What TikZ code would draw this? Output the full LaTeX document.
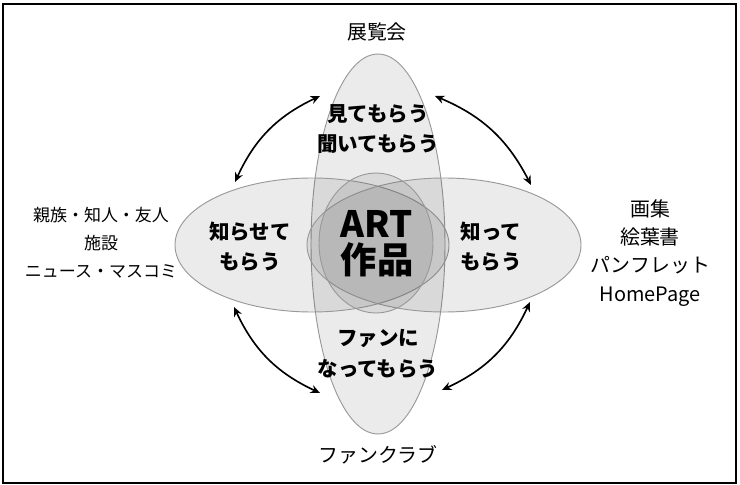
\documentclass[tikz,border=0pt]{standalone}
\usepackage{fontspec}
\setmainfont{Noto Sans CJK JP}
\usepackage{tikz}
\usetikzlibrary{arrows.meta}

\begin{document}
\begin{tikzpicture}[x=0.03cm, y=-0.03cm,
	petal/.style={draw=gray!80, line width=0.8pt, fill=black, fill opacity=0.08, draw opacity=1},
	label/.style={align=center, font=\fontsize{17}{24}\selectfont, inner sep=0pt},
	inner/.style={align=center, font=\bfseries\fontsize{17.5}{26}\selectfont, inner sep=0pt},
	link/.style={{Stealth[length=8pt,width=7pt]}-{Stealth[length=8pt,width=7pt]}, line width=1.4pt}]

% Frame round the whole picture
\useasboundingbox (0,0) rectangle (740,485);
\draw [line width=1.4pt] (3,4) rectangle (736,483);

% Draws the four ellipses and the small one in the middle
\draw [petal] (378,244) ellipse [x radius=67, y radius=190];
\draw [petal] (312,245) ellipse [x radius=137, y radius=67];
\draw [petal] (444,245) ellipse [x radius=137, y radius=67];
\draw [petal] (376,243) ellipse [x radius=57, y radius=70];

% Writes the texts inside the ellipses
\node [inner] (top) at (378,129) {見てもらう\\聞いてもらう};
\node [inner] (left) at (250,247) {知らせて\\もらう};
\node [inner] (right) at (491,247) {知って\\もらう};
\node [inner] (bottom) at (378,354) {ファンに\\なってもらう};
\node [inner, font=\bfseries\fontsize{31}{31}\selectfont] (art) at (377,244) {ART\\作品};

% Writes the labels outside
\node [label] (expo) at (377,32) {展覧会};
\node [label, font=\fontsize{14.5}{24}\selectfont] (people) at (101,243) {親族・知人・友人\\施設\\ニュース・マスコミ};
\node [label] (books) at (650,253) {画集\\絵葉書\\パンフレット\\HomePage};
\node [label] (club) at (378,455) {ファンクラブ};

% Arrow ends
\coordinate (ul1) at (235,182);
\coordinate (ul2) at (320,96);
\coordinate (ur1) at (435,96);
\coordinate (ur2) at (531,185);
\coordinate (ll1) at (234,307);
\coordinate (ll2) at (320,393);
\coordinate (lr1) at (530,302);
\coordinate (lr2) at (442,390);

% Draws the curved arrows between the ellipses
\draw [link] (ul1) to [bend left=20] (ul2);
\draw [link] (ur1) to [bend left=20] (ur2);
\draw [link] (ll1) to [bend right=20] (ll2);
\draw [link] (lr1) to [bend left=20] (lr2);

\end{tikzpicture}
\end{document}
